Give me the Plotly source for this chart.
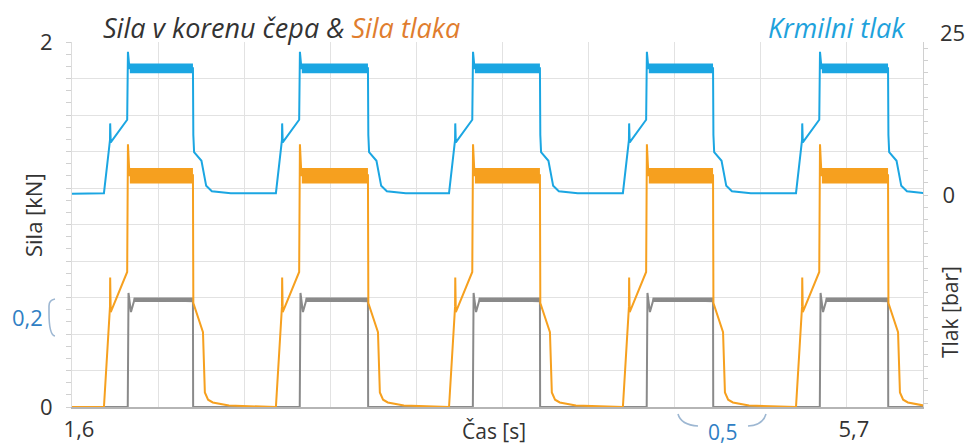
import plotly.graph_objects as go

# ---------------- data ----------------
# times of the step-up (jump) and of the end of each plateau, seconds
cycle_jump_s = [1.896, 2.806, 3.722, 4.642, 5.558]
cycle_end_s = [2.240, 3.166, 4.076, 4.992, 5.918]

# Sila tlaka (orange, kN): rise relative to jump, fall relative to plateau end
orange_rise_dt = [-0.127, -0.095, -0.094, -0.091, -0.004, 0.0, 0.008]
orange_rise_kn = [0.0, 0.55, 0.71, 0.52, 0.74, 1.44, 1.27]
orange_fall_dt = [0.0, 0.002, 0.053, 0.063, 0.08, 0.105, 0.19]
orange_fall_kn = [1.27, 0.57, 0.41, 0.08, 0.04, 0.025, 0.008]
orange_ripple_kn = [1.225, 1.31]

# Krmilni tlak (blue, bar)
blue_rise_dt = [-0.127, -0.1, -0.095, -0.094, -0.091, -0.004, 0.0, 0.008]
blue_rise_bar = [0.3, 7.6, 9.0, 11.7, 8.6, 12.3, 23.4, 20.7]
blue_fall_dt = [0.0, 0.002, 0.006, 0.045, 0.07, 0.1, 0.2]
blue_fall_bar = [20.7, 9.8, 7.0, 5.6, 1.5, 0.6, 0.3]
blue_ripple_bar = [19.9, 21.5]

# Sila v korenu čepa (gray, kN)
gray_rise_dt = [-0.001, 0.003, 0.016, 0.035]
gray_rise_kn = [0.0, 0.625, 0.52, 0.59]
gray_fall_dt = [0.0, 0.001]
gray_fall_kn = [0.58, 0.0]
gray_ripple_kn = [0.575, 0.60]

x_range = [1.6, 6.103]
x_grid = [1.6, 2.0556, 2.5111, 2.9667, 3.4222, 3.8778, 4.3333, 4.7889, 5.2444, 5.7]
x_ticktext = ["1,6", "", "", "", "", "", "", "", "", "5,7"]
y_grid = [0, 0.2, 0.4, 0.6, 0.8, 1.0, 1.2, 1.4, 1.6, 1.8, 2.0]
y_ticktext = ["0", "", "", "", "", "", "", "", "", "", "2"]
y2_range = [-34.64, 25]
y2_ticks = [0]
y2_ticktext = ["0"]
y2_top_label = "25"

ORANGE = "#f6a01f"
BLUE = "#1ba6e2"
GRAY = "#8a8a8a"


def build(start_val, rise_dt, rise_v, fall_dt, fall_v, end_val):
    xs, ys = [x_range[0]], [start_val]
    for j, e in zip(cycle_jump_s, cycle_end_s):
        xs += [j + d for d in rise_dt]
        ys += list(rise_v)
        xs += [e + d for d in fall_dt]
        ys += list(fall_v)
    xs.append(x_range[1])
    ys.append(end_val)
    return xs, ys


def ripple(band, start_dt):
    xs, ys = [], []
    for j, e in zip(cycle_jump_s, cycle_end_s):
        a = j + start_dt
        xs += [a, e, e, a, a, None]
        ys += [band[0], band[0], band[1], band[1], band[0], None]
    return xs, ys


fig = go.Figure()

bx, by = build(0.2, blue_rise_dt, blue_rise_bar, blue_fall_dt, blue_fall_bar, 0.3)
rx, ry = ripple(blue_ripple_bar, 0.01)
fig.add_trace(go.Scatter(x=rx, y=ry, yaxis="y2", fill="toself", fillcolor=BLUE,
                         mode="none", hoverinfo="skip", showlegend=False))
fig.add_trace(go.Scatter(x=bx, y=by, yaxis="y2", mode="lines",
                         line=dict(color=BLUE, width=2), name="Krmilni tlak", showlegend=False))

gx, gy = build(0.0, gray_rise_dt, gray_rise_kn, gray_fall_dt, gray_fall_kn, 0.0)
rx, ry = ripple(gray_ripple_kn, 0.03)
fig.add_trace(go.Scatter(x=rx, y=ry, fill="toself", fillcolor=GRAY,
                         mode="none", hoverinfo="skip", showlegend=False))
fig.add_trace(go.Scatter(x=gx, y=gy, mode="lines",
                         line=dict(color=GRAY, width=2), name="Sila v korenu čepa", showlegend=False))

ox, oy = build(0.0, orange_rise_dt, orange_rise_kn, orange_fall_dt, orange_fall_kn, 0.005)
rx, ry = ripple(orange_ripple_kn, 0.01)
fig.add_trace(go.Scatter(x=rx, y=ry, fill="toself", fillcolor=ORANGE,
                         mode="none", hoverinfo="skip", showlegend=False))
fig.add_trace(go.Scatter(x=ox, y=oy, mode="lines",
                         line=dict(color=ORANGE, width=2), name="Sila tlaka", showlegend=False))

# ---------------- layout ----------------
W, H = 966, 446
L, R, T, B = 72, 923, 42, 407


def px(x):
    return (x - L) / (R - L)


def py(y):
    return (B - y) / (B - T)


FONT = "'Open Sans', Lato, sans-serif"
TXT = "#333333"
ANN_BLUE = "#2f80c4"
TICK_FONT = dict(family=FONT, size=22, color=TXT)

fig.update_layout(
    width=W, height=H,
    margin=dict(l=L, r=W - R, t=T, b=H - B, autoexpand=False),
    paper_bgcolor="white", plot_bgcolor="white",
    font=dict(family=FONT, size=20, color=TXT),
    showlegend=False,
    xaxis=dict(range=x_range, tickmode="array", tickvals=x_grid, ticktext=x_ticktext,
               showgrid=True, gridcolor="#e2e2e2", gridwidth=1, zeroline=False,
               showline=True, linecolor="#b5b5b5", linewidth=1.5, ticks="",
               automargin=False, ticklabelstandoff=2, ticklabelshift=7, tickfont=TICK_FONT),
    yaxis=dict(range=[0, 2], tickmode="array", tickvals=y_grid, ticktext=y_ticktext,
               showgrid=True, gridcolor="#e2e2e2", gridwidth=1, zeroline=False,
               showline=True, linecolor="#dcdcdc", linewidth=1, ticks="",
               automargin=False, ticklabelstandoff=14, tickfont=TICK_FONT,
               minor=dict(tickmode="linear", tick0=0, dtick=0.2 / 3, ticks="outside",
                          ticklen=5, tickcolor="#d0d0d0", showgrid=False)),
    yaxis2=dict(range=y2_range, overlaying="y", side="right", tickmode="array",
                tickvals=y2_ticks, ticktext=y2_ticktext, showgrid=False, zeroline=False,
                showline=True, linecolor="#d0d0d0", linewidth=1, ticks="",
                automargin=False, ticklabelstandoff=14, tickfont=TICK_FONT,
                minor=dict(tickmode="linear", tick0=0, dtick=2, ticks="outside",
                           ticklen=4, tickcolor="#d0d0d0", showgrid=False)),
)

ann = [
    dict(x=px(101), y=py(27), xanchor="left", yanchor="middle",
         text="<i>Sila v korenu čepa & <span style='color:#e07d2e'>Sila tlaka</span></i>",
         font=dict(size=27, color=TXT)),
    dict(x=px(908), y=py(27), xanchor="right", yanchor="middle",
         text="<i>Krmilni tlak</i>", font=dict(size=27, color="#1ea2dc")),
    dict(x=px(938), y=py(32), xanchor="left", yanchor="middle",
         text=y2_top_label, font=TICK_FONT),
    dict(x=px(33), y=py(215), xanchor="center", yanchor="middle", textangle=-90,
         text="Sila [kN]", font=dict(size=22, color=TXT)),
    dict(x=px(950), y=py(312), xanchor="center", yanchor="middle", textangle=-90,
         text="Tlak [bar]", font=dict(size=21, color=TXT)),
    dict(x=px(494), y=py(431), xanchor="center", yanchor="middle",
         text="Čas [s]", font=dict(size=21, color=TXT)),
    dict(x=px(27), y=py(317), xanchor="center", yanchor="middle",
         text="0,2", font=dict(size=22, color=ANN_BLUE)),
    dict(x=px(722), y=py(432), xanchor="center", yanchor="middle",
         text="0,5", font=dict(size=21, color=ANN_BLUE)),
]
for a in ann:
    a.update(xref="paper", yref="paper", showarrow=False)
fig.update_layout(annotations=ann)


def path(points_cmds):
    out = []
    for cmd, pts in points_cmds:
        out.append(cmd + " " + " ".join(f"{px(x):.5f},{py(y):.5f}" for x, y in pts))
    return " ".join(out)


BR = "#9db7d2"
left_brace = path([("M", [(55, 299)]), ("Q", [(49, 300), (49, 306)]), ("L", [(49, 313), (47, 317), (49, 321), (49, 329)]),
                   ("Q", [(49, 335), (55, 336)])])
low_left = path([("M", [(678, 414)]), ("Q", [(681, 425), (698, 426)])])
low_right = path([("M", [(748, 426)]), ("Q", [(763, 425), (766, 414)])])
shapes = []
for p in (left_brace, low_left, low_right):
    shapes.append(dict(type="path", path=p, xref="paper", yref="paper",
                       line=dict(color=BR, width=1.6)))
fig.update_layout(shapes=shapes)

fig.write_html("out.html")
